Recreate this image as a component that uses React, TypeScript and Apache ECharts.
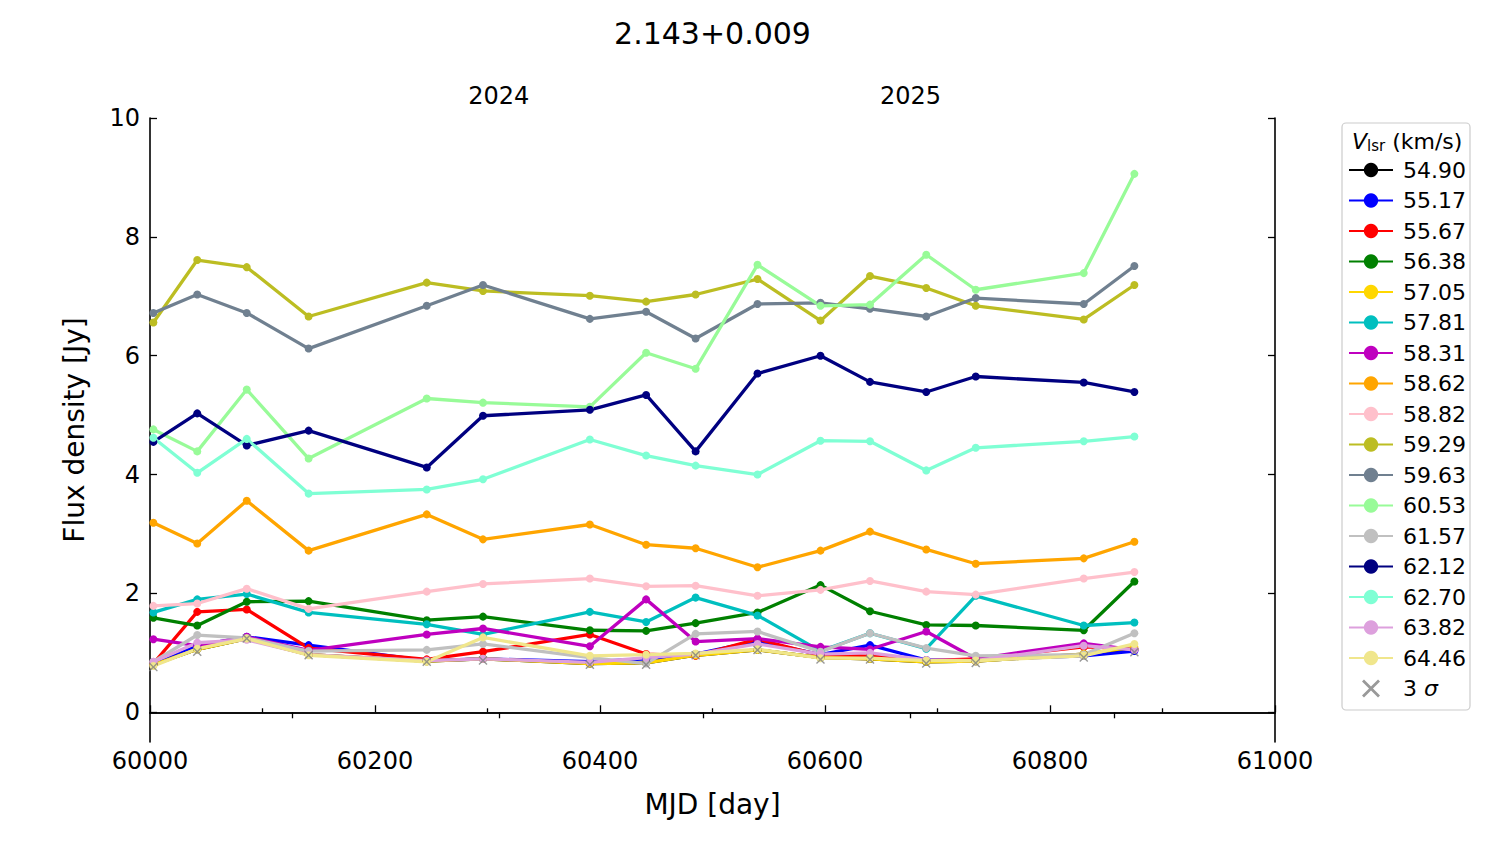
import React, { useEffect, useRef } from "react";
import * as echarts from "echarts";

// ---------------- data ----------------
const mjd = [60003, 60042, 60086, 60141, 60246, 60296, 60391, 60441, 60485, 60540, 60596, 60640, 60690, 60734, 60830, 60875];

const velocityLabels = ["54.90", "55.17", "55.67", "56.38", "57.05", "57.81", "58.31", "58.62", "58.82", "59.29", "59.63", "60.53", "61.57", "62.12", "62.70", "63.82", "64.46"];
const lineColors = ["#000000", "#0000ff", "#ff0000", "#008000", "#ffd700", "#00bfbf", "#bf00bf", "#ffa500", "#ffc0cb", "#bcbd22", "#708090", "#98fb98", "#c0c0c0", "#000080", "#7fffd4", "#dda0dd", "#f0e68c"];

const v5490 = [0.80, 1.06, 1.24, 0.97, 0.86, 0.90, 0.82, 0.83, 0.96, 1.05, 0.92, 0.90, 0.85, 0.86, 0.98, 1.05];
const v5517 = [0.80, 1.12, 1.27, 1.13, 0.87, 0.90, 0.85, 0.90, 0.98, 1.20, 0.97, 1.13, 0.88, 0.88, 0.95, 1.03];
const v5567 = [0.82, 1.69, 1.73, 1.08, 0.89, 1.02, 1.31, 0.98, 0.95, 1.23, 0.96, 0.95, 0.87, 0.90, 1.10, 1.07];
const v5638 = [1.59, 1.46, 1.86, 1.87, 1.55, 1.61, 1.38, 1.37, 1.50, 1.68, 2.14, 1.70, 1.47, 1.46, 1.38, 2.20];
const v5705 = [0.80, 1.06, 1.24, 0.97, 0.86, 0.90, 0.82, 0.83, 0.96, 1.05, 0.92, 0.90, 0.85, 0.86, 0.98, 1.10];
const v5781 = [1.68, 1.90, 1.99, 1.68, 1.48, 1.31, 1.69, 1.52, 1.93, 1.63, 1.03, 1.33, 1.07, 1.96, 1.46, 1.51];
const v5831 = [1.23, 1.12, 1.27, 1.04, 1.31, 1.41, 1.11, 1.90, 1.19, 1.24, 1.10, 1.06, 1.36, 0.90, 1.16, 1.05];
const v5862 = [3.19, 2.84, 3.56, 2.72, 3.33, 2.91, 3.16, 2.82, 2.76, 2.44, 2.72, 3.04, 2.74, 2.50, 2.59, 2.87];
const v5882 = [1.79, 1.83, 2.08, 1.74, 2.03, 2.16, 2.25, 2.12, 2.13, 1.96, 2.06, 2.21, 2.03, 1.98, 2.25, 2.36];
const v5929 = [6.56, 7.61, 7.49, 6.66, 7.23, 7.09, 7.01, 6.91, 7.03, 7.29, 6.59, 7.34, 7.14, 6.84, 6.61, 7.19];
const v5963 = [6.72, 7.03, 6.72, 6.12, 6.84, 7.19, 6.62, 6.74, 6.29, 6.87, 6.89, 6.79, 6.66, 6.97, 6.87, 7.51];
const v6053 = [4.76, 4.39, 5.43, 4.27, 5.28, 5.21, 5.14, 6.05, 5.78, 7.53, 6.84, 6.86, 7.70, 7.11, 7.39, 9.06];
const v6157 = [0.85, 1.30, 1.25, 1.03, 1.05, 1.15, 0.92, 0.82, 1.32, 1.36, 1.02, 1.33, 1.08, 0.95, 0.97, 1.33];
const v6212 = [4.55, 5.03, 4.49, 4.74, 4.12, 4.99, 5.09, 5.34, 4.39, 5.70, 6.00, 5.56, 5.39, 5.65, 5.55, 5.39];
const v6270 = [4.62, 4.03, 4.60, 3.68, 3.75, 3.92, 4.59, 4.32, 4.15, 4.00, 4.57, 4.56, 4.07, 4.45, 4.56, 4.64];
const v6382 = [0.85, 1.17, 1.22, 0.97, 0.87, 0.90, 0.84, 0.92, 0.98, 1.15, 0.98, 1.00, 0.88, 0.87, 1.12, 1.05];
const v6446 = [0.78, 1.07, 1.24, 0.96, 0.85, 1.26, 0.95, 0.97, 0.99, 1.06, 0.91, 0.91, 0.87, 0.87, 0.95, 1.15];
const sigma3 = [0.76, 1.02, 1.24, 0.96, 0.85, 0.87, 0.80, 0.80, 0.96, 1.05, 0.89, 0.89, 0.82, 0.83, 0.92, 1.01];

const seriesValues = [v5490, v5517, v5567, v5638, v5705, v5781, v5831, v5862, v5882, v5929, v5963, v6053, v6157, v6212, v6270, v6382, v6446];

const yTicks = [0, 2, 4, 6, 8, 10];
const yearTicks = [60310, 60676];
const yearLabels = ["2024", "2025"];
const halfYearTicks = [60126, 60492, 60857];

const titleText = "2.143+0.009";
const sigmaName = "3 σ";

const FONT = "DejaVu Sans";
const X_PATH =
  "path://M0,1.1L1.1,0L5,3.9L8.9,0L10,1.1L6.1,5L10,8.9L8.9,10L5,6.1L1.1,10L0,8.9L3.9,5Z";

export default function App() {
  const ref = useRef<HTMLDivElement>(null);

  useEffect(() => {
    if (!ref.current) return;
    const chart = echarts.init(ref.current, undefined, { renderer: "svg" });

    const lineSeries = velocityLabels.map((name, i) => ({
      type: "line",
      name,
      data: mjd.map((x, j) => [x, seriesValues[i][j]]),
      xAxisIndex: 0,
      yAxisIndex: 0,
      symbol: "circle",
      symbolSize: 8,
      showSymbol: true,
      lineStyle: { width: 3.3, color: lineColors[i] },
      itemStyle: { color: lineColors[i] },
      emphasis: { disabled: true },
      z: 2,
    }));

    const sigmaSeries = {
      type: "scatter",
      name: sigmaName,
      data: mjd.map((x, j) => [x, sigma3[j]]),
      xAxisIndex: 0,
      yAxisIndex: 0,
      symbol: X_PATH,
      symbolSize: 9,
      symbolKeepAspect: true,
      itemStyle: { color: "#808080" },
      emphasis: { disabled: true },
      z: 3,
    };

    const axisLine = { show: true, lineStyle: { color: "#000", width: 1.6 } };
    const tickStyle = { color: "#000", width: 1.3 };

    const option: any = {
      animation: false,
      backgroundColor: "#fff",
      textStyle: { fontFamily: FONT },
      grid: { left: 150, top: 118, width: 1125, height: 624, containLabel: false },
      xAxis: [
        {
          type: "value",
          position: "bottom",
          min: 60000,
          max: 61000,
          interval: 200,
          name: "MJD [day]",
          nameLocation: "middle",
          nameGap: 48,
          nameTextStyle: { fontSize: 28, color: "#000", fontFamily: FONT },
          axisLine,
          axisTick: { show: true, inside: true, length: 7, lineStyle: tickStyle },
          minorTick: { show: true, splitNumber: 2, length: 4, lineStyle: tickStyle },
          axisLabel: { fontSize: 24, color: "#000", margin: 7, fontFamily: FONT, formatter: (v: number) => String(v) },
          splitLine: { show: false },
        },
        {
          type: "value",
          position: "top",
          min: 60000,
          max: 61000,
          axisLine,
          axisTick: {
            show: true,
            inside: true,
            length: 6,
            lineStyle: tickStyle,
            customValues: [...halfYearTicks, ...yearTicks].sort((a, b) => a - b),
          },
          axisLabel: {
            show: true,
            fontSize: 24,
            color: "#000",
            margin: 10,
            fontFamily: FONT,
            customValues: yearTicks,
            formatter: (v: number) => {
              const k = yearTicks.indexOf(v);
              return k >= 0 ? yearLabels[k] : "";
            },
          },
          splitLine: { show: false },
        },
      ],
      yAxis: [
        {
          type: "value",
          position: "left",
          min: -0.5,
          max: 10,
          name: "Flux density [Jy]",
          nameLocation: "middle",
          nameGap: 62,
          nameTextStyle: { fontSize: 28, color: "#000", fontFamily: FONT },
          axisLine,
          axisTick: { show: true, inside: true, length: 7, lineStyle: tickStyle, customValues: yTicks },
          axisLabel: { fontSize: 24, color: "#000", margin: 10, fontFamily: FONT, customValues: yTicks },
          splitLine: { show: false },
        },
        {
          type: "value",
          position: "right",
          min: -0.5,
          max: 10,
          axisLine,
          axisTick: { show: true, inside: true, length: 7, lineStyle: tickStyle, customValues: yTicks },
          axisLabel: { show: false, customValues: yTicks },
          splitLine: { show: false },
        },
      ],
      legend: {
        show: true,
        orient: "vertical",
        left: 1348,
        top: 159,
        itemWidth: 44,
        itemHeight: 18,
        itemGap: 8.5,
        padding: 0,
        selectedMode: false,
        textStyle: { fontSize: 22, color: "#000", fontFamily: FONT, lineHeight: 22, padding: [0, 0, 0, 5], rich: { i: { fontStyle: "italic", fontSize: 22, fontFamily: FONT, color: "#000" } } },
        formatter: (name: string) => (name === sigmaName ? "3 {i|σ}" : name),
        data: [...velocityLabels, { name: sigmaName, icon: X_PATH }],
      },
      graphic: [
        {
          type: "rect",
          z: -1,
          silent: true,
          shape: { x: 1342, y: 123, width: 128, height: 587, r: 4 },
          style: { fill: "#fff", stroke: "#cccccc", lineWidth: 1.2 },
        },
        {
          type: "text",
          silent: true,
          x: 1352,
          y: 141,
          style: {
            text: "{v|V}{s|lsr}{t| (km/s)}",
            textVerticalAlign: "middle",
            rich: {
              v: { fontSize: 22, fontStyle: "italic", fontFamily: FONT, fill: "#000" },
              s: { fontSize: 15, fontFamily: FONT, fill: "#000", padding: [10, 0, 0, 0] },
              t: { fontSize: 22, fontFamily: FONT, fill: "#000" },
            },
          },
        },
        {
          type: "text",
          silent: true,
          x: 712.5,
          y: 33,
          style: { text: titleText, fontSize: 30, fontFamily: FONT, fill: "#000", textAlign: "center", textVerticalAlign: "middle" },
        },
      ],
      series: [...lineSeries, sigmaSeries],
    };

    chart.setOption(option);
    return () => chart.dispose();
  }, []);

  return <div ref={ref} style={{ width: 1500, height: 844, margin: -8 }} />;
}
